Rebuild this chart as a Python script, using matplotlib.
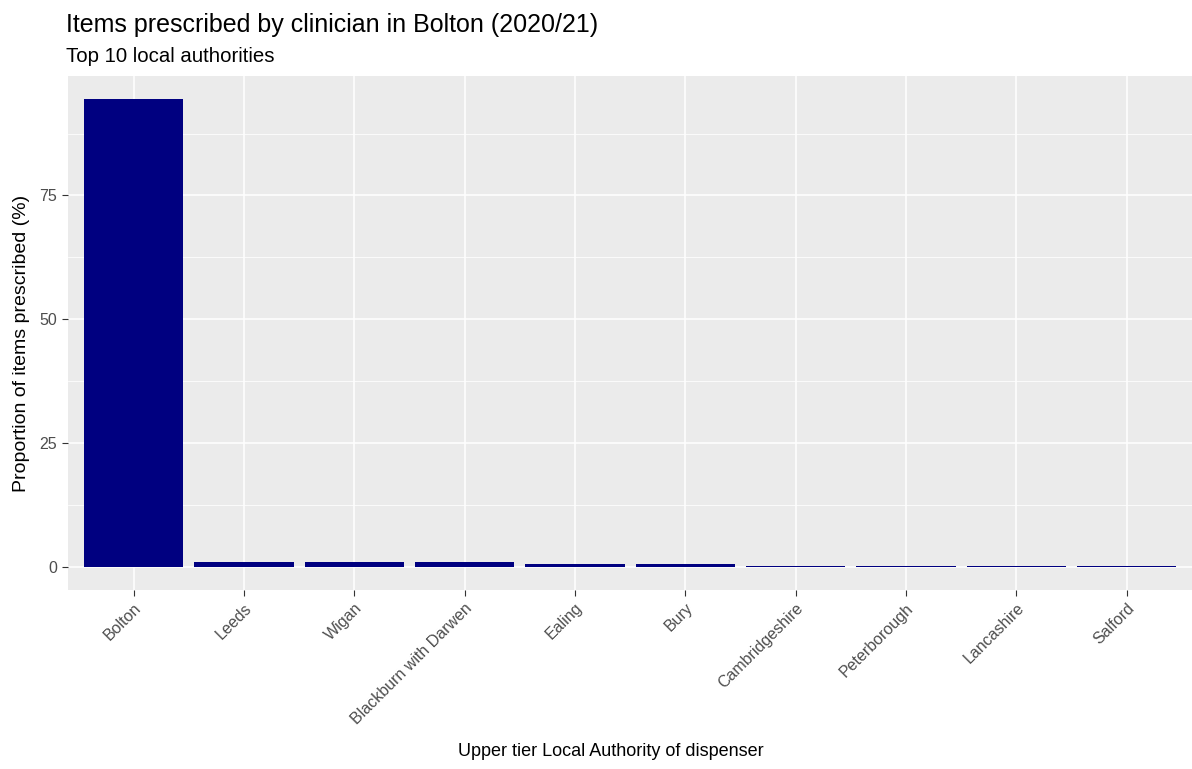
import numpy as np
import matplotlib
matplotlib.use("Agg")
import matplotlib.pyplot as plt

plt.rcParams['font.family'] = ['Liberation Sans', 'DejaVu Sans']

# Top 10 local authorities of dispenser
authorities = ["Bolton", "Leeds", "Wigan", "Blackburn with Darwen", "Ealing",
               "Bury", "Cambridgeshire", "Peterborough", "Lancashire", "Salford"]
proportion = [94.4, 1.0, 0.9, 0.9, 0.6, 0.6, 0.2, 0.2, 0.2, 0.2]

W, H = 1192, 769
fig = plt.figure(figsize=(W / 100, H / 100), dpi=100)
left, right, top, bottom = 67.5, 1193, 76, 590
ax = fig.add_axes([left / W, 1 - bottom / H, (right - left) / W, (bottom - top) / H])

x = np.arange(1, len(authorities) + 1)
ax.set_facecolor("#EBEBEB")
ax.bar(x, proportion, width=0.9, color="#000080", zorder=3)

ymax = max(proportion)
ax.set_ylim(-0.05 * ymax, ymax * 1.05)
ax.set_xlim(0.4, len(authorities) + 0.6)

ax.set_yticks([0, 25, 50, 75])
ax.set_yticks([12.5, 37.5, 62.5, 87.5], minor=True)
ax.set_xticks(x)
ax.set_xticklabels(authorities, rotation=45, ha="right", rotation_mode="anchor")
ax.grid(True, which="major", color="white", linewidth=1.1, zorder=0)
ax.grid(True, which="minor", axis="y", color="white", linewidth=0.55, zorder=0)

for s in ax.spines.values():
    s.set_visible(False)
ax.tick_params(axis="both", which="major", colors="#333333", labelcolor="#4D4D4D",
               labelsize=11.5, length=4, width=0.8)
ax.tick_params(axis="both", which="minor", length=0)

ax.set_xlabel("Upper tier Local Authority of dispenser", fontsize=13)
ax.set_ylabel("Proportion of items prescribed (%)", fontsize=14)
ax.xaxis.set_label_coords((611 - left) / (right - left), -(752 - bottom) / (bottom - top))
ax.yaxis.set_label_coords(-(left - 22) / (right - left), (bottom - 343) / (bottom - top))
ax.xaxis.label.set_va("center")
ax.yaxis.label.set_va("center")

fig.text(66 / W, 1 - 25 / H, "Items prescribed by clinician in Bolton (2020/21)",
         fontsize=18, va="center", ha="left")
fig.text(66 / W, 1 - 57 / H, "Top 10 local authorities",
         fontsize=14.7, va="center", ha="left")

fig.savefig("out.png", dpi=100)
